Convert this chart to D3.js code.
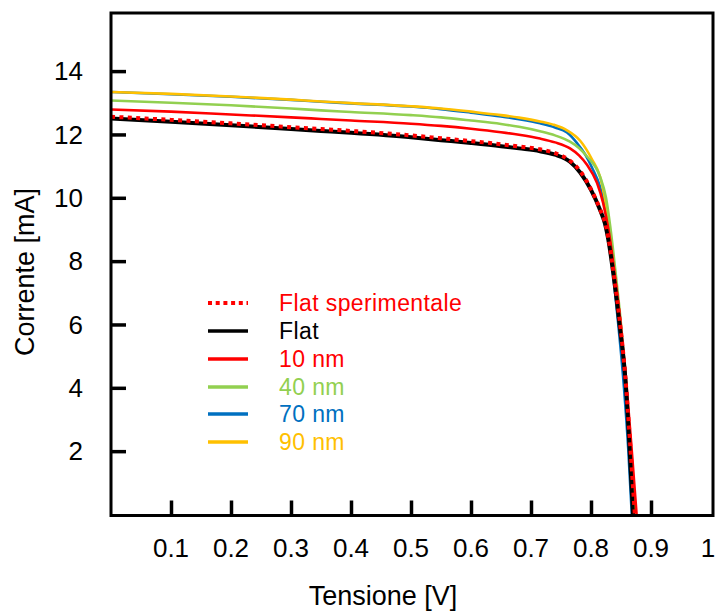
<!DOCTYPE html>
<html><head><meta charset="utf-8">
<script src="https://cdn.jsdelivr.net/npm/d3@7"></script>
<style>body{margin:0;background:#fff}svg{display:block}text{font-family:"Liberation Sans",Arial,sans-serif}</style>
</head><body><div id="chart"></div>
<script>
// Data (voltage V, current mA)
const flatSperimentale = [[0,12.56],[0.1,12.46],[0.2,12.35],[0.3,12.23],[0.35,12.17],[0.4,12.11],[0.5,11.97],[0.55,11.88],[0.6,11.79],[0.65,11.69],[0.68,11.62],[0.715,11.53],[0.74,11.41],[0.765,11.17],[0.782,10.84],[0.80,10.27],[0.815,9.64],[0.825,9.1],[0.832,8.4],[0.84,7.3],[0.848,6.1],[0.857,4.4],[0.865,2.3],[0.873,0]];
const flat = [[0,12.50],[0.1,12.40],[0.2,12.29],[0.3,12.17],[0.35,12.11],[0.4,12.05],[0.5,11.91],[0.55,11.82],[0.6,11.73],[0.65,11.63],[0.68,11.56],[0.715,11.47],[0.74,11.36],[0.765,11.14],[0.782,10.80],[0.80,10.25],[0.815,9.62],[0.823,9.2],[0.83,8.55],[0.837,7.63],[0.843,6.75],[0.848,5.93],[0.857,4.35],[0.864,2.2],[0.870,0]];
const nm10 = [[0,12.79],[0.1,12.72],[0.2,12.63],[0.3,12.54],[0.35,12.49],[0.4,12.44],[0.5,12.34],[0.55,12.27],[0.6,12.18],[0.65,12.07],[0.68,11.99],[0.715,11.87],[0.74,11.75],[0.765,11.56],[0.78,11.34],[0.793,11.05],[0.81,10.47],[0.82,9.85],[0.83,8.9],[0.84,7.5],[0.85,5.9],[0.86,3.9],[0.868,2.0],[0.876,0]];
const nm40 = [[0,13.07],[0.1,13.00],[0.2,12.92],[0.3,12.82],[0.35,12.76],[0.4,12.71],[0.5,12.61],[0.55,12.54],[0.6,12.44],[0.65,12.33],[0.68,12.24],[0.715,12.10],[0.74,11.97],[0.765,11.77],[0.78,11.57],[0.793,11.31],[0.815,10.67],[0.825,10.0],[0.832,9.1],[0.84,7.8],[0.85,6.0],[0.86,3.7],[0.865,2.3],[0.870,0]];
const nm70 = [[0,13.34],[0.1,13.27],[0.2,13.19],[0.3,13.09],[0.35,13.03],[0.4,12.98],[0.5,12.88],[0.55,12.80],[0.6,12.69],[0.65,12.57],[0.68,12.48],[0.715,12.35],[0.74,12.22],[0.76,12.06],[0.777,11.72],[0.79,11.38],[0.802,10.94],[0.815,10.35],[0.823,9.7],[0.83,8.8],[0.838,7.4],[0.846,5.9],[0.855,4.0],[0.862,2.1],[0.868,0]];
const nm90 = [[0,13.34],[0.1,13.28],[0.2,13.20],[0.3,13.10],[0.35,13.04],[0.4,12.99],[0.5,12.89],[0.55,12.82],[0.6,12.72],[0.65,12.61],[0.68,12.53],[0.715,12.41],[0.737,12.31],[0.76,12.13],[0.782,11.80],[0.802,11.20],[0.815,10.67],[0.822,10.1],[0.829,9.3],[0.836,8.2],[0.843,7.0],[0.85,5.8],[0.858,4.1],[0.865,2.2],[0.872,0]];

const xTicks = [0.1,0.2,0.3,0.4,0.5,0.6,0.7,0.8,0.9,1];
const yTicks = [2,4,6,8,10,12,14];

const series = [
  {name:"70 nm", data:nm70, color:"#0070C0", width:2.6},
  {name:"90 nm", data:nm90, color:"#FFC000", width:2.6},
  {name:"40 nm", data:nm40, color:"#92D050", width:2.6},
  {name:"10 nm", data:nm10, color:"#FF0000", width:2.6},
  {name:"Flat", data:flat, color:"#000000", width:4},
  {name:"Flat sperimentale", data:flatSperimentale, color:"#FF0000", width:4, dash:"4,4.4"}
];
const legendOrder = ["Flat sperimentale","Flat","10 nm","40 nm","70 nm","90 nm"];

const W=716,H=612;
const svg=d3.select("#chart").append("svg").attr("width",W).attr("height",H);
const x=d3.scaleLinear().domain([0,1]).range([111,711]);
const y=d3.scaleLinear().domain([0,14]).range([514.5,71.1]);
const fTop=13, fBottom=515.5, fLeft=111, fRight=713;

const line=d3.line().x(d=>x(d[0])).y(d=>y(d[1])).curve(d3.curveMonotoneX);
const g=svg.append("g");
series.forEach(s=>{
  g.append("path").attr("d",line(s.data)).attr("fill","none")
   .attr("stroke",s.color).attr("stroke-width",s.width)
   .attr("stroke-dasharray",s.dash||null).attr("stroke-linejoin","round");
});

// frame
svg.append("rect").attr("x",fLeft).attr("y",fTop).attr("width",fRight-fLeft).attr("height",fBottom-fTop)
  .attr("fill","none").attr("stroke","#000").attr("stroke-width",3);

// y axis ticks (inside)
const yAxis=d3.axisRight(y).tickValues(yTicks).tickSize(15).tickFormat("");
const ya=svg.append("g").attr("transform",`translate(${fLeft},0)`).call(yAxis);
ya.select(".domain").remove();
ya.selectAll("line").attr("stroke","#000").attr("stroke-width",3.5);
svg.append("g").selectAll("text").data(yTicks).join("text")
  .attr("x",83).attr("y",d=>y(d)).attr("dy","0.35em").attr("text-anchor","end")
  .attr("font-size",26).text(d=>d);

// x axis ticks (inside)
const xAxis=d3.axisTop(x).tickValues(xTicks.filter(d=>d<1)).tickSize(15).tickFormat("");
const xa=svg.append("g").attr("transform",`translate(0,${fBottom})`).call(xAxis);
xa.select(".domain").remove();
xa.selectAll("line").attr("stroke","#000").attr("stroke-width",3.5);
svg.append("g").selectAll("text").data(xTicks).join("text")
  .attr("x",d=>d===1?x(d)-3:x(d)).attr("y",557).attr("text-anchor","middle")
  .attr("font-size",26).text(d=>d);

// axis titles
svg.append("text").attr("x",383).attr("y",605).attr("text-anchor","middle").attr("font-size",27).text("Tensione [V]");
svg.append("text").attr("transform","translate(34,272) rotate(-90)").attr("text-anchor","middle").attr("font-size",27).text("Corrente [mA]");

// legend
const lg=svg.append("g");
const rowsY=[303,331,359,387,414,442];
legendOrder.forEach((nm,i)=>{
  const s=series.find(t=>t.name===nm);
  lg.append("line").attr("x1",208).attr("x2",248).attr("y1",rowsY[i]).attr("y2",rowsY[i])
    .attr("stroke",s.color).attr("stroke-width",s.dash?4:3.5).attr("stroke-dasharray",s.dash?"4,3.7":null);
  lg.append("text").attr("x",279).attr("y",rowsY[i]).attr("dy","0.36em").attr("font-size",23)
    .attr("letter-spacing",0.4).attr("fill",s.color).text(nm);
});
</script></body></html>
